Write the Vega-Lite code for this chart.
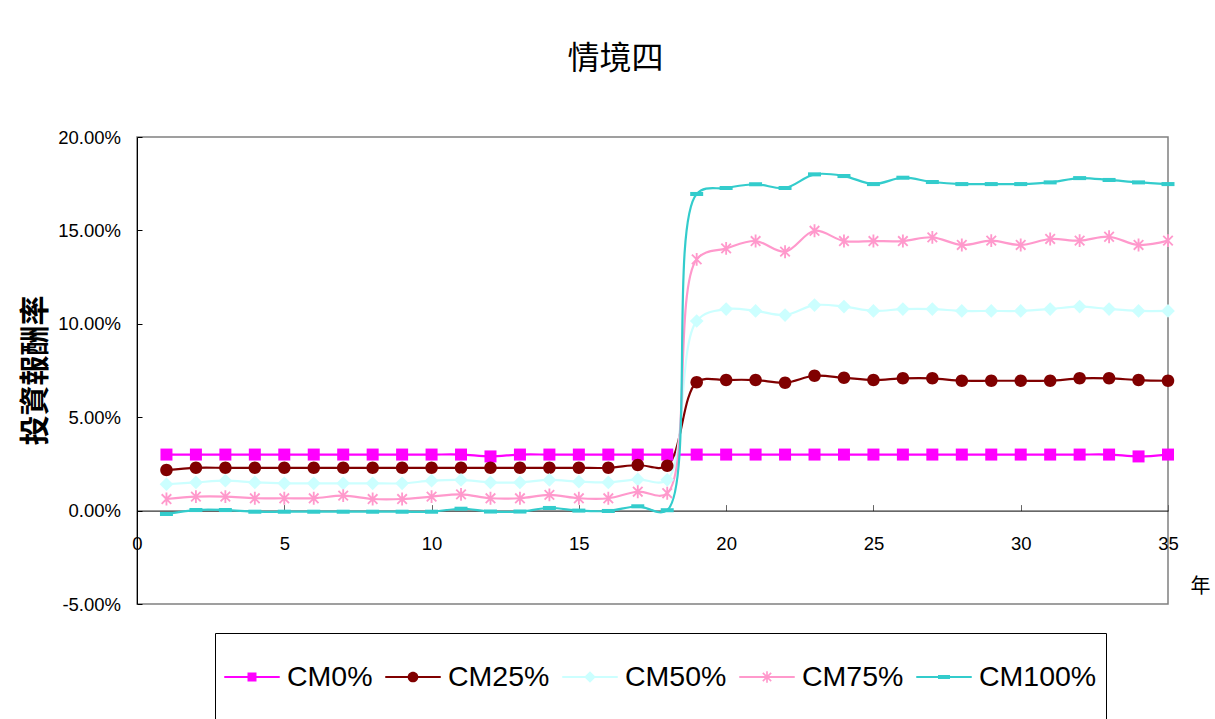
{
  "$schema": "https://vega.github.io/schema/vega-lite/v6.json",
  "autosize": {"type": "none"},
  "width": 1031,
  "height": 467,
  "padding": {"left": 137, "top": 137, "right": 47, "bottom": 115},
  "background": "white",
  "config": {
    "view": {"stroke": "#808080", "strokeWidth": 1.5},
    "font": "Liberation Sans"
  },
  "title": {
    "text": "情境四",
    "font": "Noto Sans CJK TC",
    "fontSize": 32,
    "fontWeight": "normal",
    "color": "black",
    "anchor": "middle",
    "frame": "group",
    "dx": -37,
    "offset": 52
  },
  "data": {
    "values": [
      {"year": 1, "series": "CM0%", "value": 0.030}, {"year": 2, "series": "CM0%", "value": 0.030}, {"year": 3, "series": "CM0%", "value": 0.030}, {"year": 4, "series": "CM0%", "value": 0.030}, {"year": 5, "series": "CM0%", "value": 0.030}, {"year": 6, "series": "CM0%", "value": 0.030}, {"year": 7, "series": "CM0%", "value": 0.030}, {"year": 8, "series": "CM0%", "value": 0.030}, {"year": 9, "series": "CM0%", "value": 0.030}, {"year": 10, "series": "CM0%", "value": 0.030}, {"year": 11, "series": "CM0%", "value": 0.030}, {"year": 12, "series": "CM0%", "value": 0.029}, {"year": 13, "series": "CM0%", "value": 0.030}, {"year": 14, "series": "CM0%", "value": 0.030}, {"year": 15, "series": "CM0%", "value": 0.030}, {"year": 16, "series": "CM0%", "value": 0.030}, {"year": 17, "series": "CM0%", "value": 0.030}, {"year": 18, "series": "CM0%", "value": 0.030}, {"year": 19, "series": "CM0%", "value": 0.030}, {"year": 20, "series": "CM0%", "value": 0.030}, {"year": 21, "series": "CM0%", "value": 0.030}, {"year": 22, "series": "CM0%", "value": 0.030}, {"year": 23, "series": "CM0%", "value": 0.030}, {"year": 24, "series": "CM0%", "value": 0.030}, {"year": 25, "series": "CM0%", "value": 0.030}, {"year": 26, "series": "CM0%", "value": 0.030}, {"year": 27, "series": "CM0%", "value": 0.030}, {"year": 28, "series": "CM0%", "value": 0.030}, {"year": 29, "series": "CM0%", "value": 0.030}, {"year": 30, "series": "CM0%", "value": 0.030}, {"year": 31, "series": "CM0%", "value": 0.030}, {"year": 32, "series": "CM0%", "value": 0.030}, {"year": 33, "series": "CM0%", "value": 0.030}, {"year": 34, "series": "CM0%", "value": 0.029}, {"year": 35, "series": "CM0%", "value": 0.030},
      {"year": 1, "series": "CM25%", "value": 0.0217}, {"year": 2, "series": "CM25%", "value": 0.0229}, {"year": 3, "series": "CM25%", "value": 0.0229}, {"year": 4, "series": "CM25%", "value": 0.0229}, {"year": 5, "series": "CM25%", "value": 0.0229}, {"year": 6, "series": "CM25%", "value": 0.0229}, {"year": 7, "series": "CM25%", "value": 0.0229}, {"year": 8, "series": "CM25%", "value": 0.0229}, {"year": 9, "series": "CM25%", "value": 0.0229}, {"year": 10, "series": "CM25%", "value": 0.0229}, {"year": 11, "series": "CM25%", "value": 0.0229}, {"year": 12, "series": "CM25%", "value": 0.0229}, {"year": 13, "series": "CM25%", "value": 0.0229}, {"year": 14, "series": "CM25%", "value": 0.0229}, {"year": 15, "series": "CM25%", "value": 0.0229}, {"year": 16, "series": "CM25%", "value": 0.0229}, {"year": 17, "series": "CM25%", "value": 0.0244}, {"year": 18, "series": "CM25%", "value": 0.0240}, {"year": 19, "series": "CM25%", "value": 0.0687}, {"year": 20, "series": "CM25%", "value": 0.0699}, {"year": 21, "series": "CM25%", "value": 0.0699}, {"year": 22, "series": "CM25%", "value": 0.0685}, {"year": 23, "series": "CM25%", "value": 0.0722}, {"year": 24, "series": "CM25%", "value": 0.0711}, {"year": 25, "series": "CM25%", "value": 0.0699}, {"year": 26, "series": "CM25%", "value": 0.0708}, {"year": 27, "series": "CM25%", "value": 0.0708}, {"year": 28, "series": "CM25%", "value": 0.0695}, {"year": 29, "series": "CM25%", "value": 0.0695}, {"year": 30, "series": "CM25%", "value": 0.0695}, {"year": 31, "series": "CM25%", "value": 0.0695}, {"year": 32, "series": "CM25%", "value": 0.0708}, {"year": 33, "series": "CM25%", "value": 0.0708}, {"year": 34, "series": "CM25%", "value": 0.0699}, {"year": 35, "series": "CM25%", "value": 0.0695},
      {"year": 1, "series": "CM50%", "value": 0.0141}, {"year": 2, "series": "CM50%", "value": 0.0151}, {"year": 3, "series": "CM50%", "value": 0.0160}, {"year": 4, "series": "CM50%", "value": 0.0151}, {"year": 5, "series": "CM50%", "value": 0.0146}, {"year": 6, "series": "CM50%", "value": 0.0146}, {"year": 7, "series": "CM50%", "value": 0.0146}, {"year": 8, "series": "CM50%", "value": 0.0146}, {"year": 9, "series": "CM50%", "value": 0.0146}, {"year": 10, "series": "CM50%", "value": 0.0160}, {"year": 11, "series": "CM50%", "value": 0.0164}, {"year": 12, "series": "CM50%", "value": 0.0151}, {"year": 13, "series": "CM50%", "value": 0.0151}, {"year": 14, "series": "CM50%", "value": 0.0164}, {"year": 15, "series": "CM50%", "value": 0.0155}, {"year": 16, "series": "CM50%", "value": 0.0151}, {"year": 17, "series": "CM50%", "value": 0.0167}, {"year": 18, "series": "CM50%", "value": 0.0165}, {"year": 19, "series": "CM50%", "value": 0.1015}, {"year": 20, "series": "CM50%", "value": 0.1079}, {"year": 21, "series": "CM50%", "value": 0.1069}, {"year": 22, "series": "CM50%", "value": 0.1047}, {"year": 23, "series": "CM50%", "value": 0.1100}, {"year": 24, "series": "CM50%", "value": 0.1092}, {"year": 25, "series": "CM50%", "value": 0.1069}, {"year": 26, "series": "CM50%", "value": 0.1079}, {"year": 27, "series": "CM50%", "value": 0.1079}, {"year": 28, "series": "CM50%", "value": 0.1069}, {"year": 29, "series": "CM50%", "value": 0.1069}, {"year": 30, "series": "CM50%", "value": 0.1069}, {"year": 31, "series": "CM50%", "value": 0.1079}, {"year": 32, "series": "CM50%", "value": 0.1092}, {"year": 33, "series": "CM50%", "value": 0.1079}, {"year": 34, "series": "CM50%", "value": 0.1069}, {"year": 35, "series": "CM50%", "value": 0.1069},
      {"year": 1, "series": "CM75%", "value": 0.0062}, {"year": 2, "series": "CM75%", "value": 0.0075}, {"year": 3, "series": "CM75%", "value": 0.0075}, {"year": 4, "series": "CM75%", "value": 0.0066}, {"year": 5, "series": "CM75%", "value": 0.0066}, {"year": 6, "series": "CM75%", "value": 0.0066}, {"year": 7, "series": "CM75%", "value": 0.0080}, {"year": 8, "series": "CM75%", "value": 0.0062}, {"year": 9, "series": "CM75%", "value": 0.0062}, {"year": 10, "series": "CM75%", "value": 0.0075}, {"year": 11, "series": "CM75%", "value": 0.0087}, {"year": 12, "series": "CM75%", "value": 0.0066}, {"year": 13, "series": "CM75%", "value": 0.0066}, {"year": 14, "series": "CM75%", "value": 0.0084}, {"year": 15, "series": "CM75%", "value": 0.0066}, {"year": 16, "series": "CM75%", "value": 0.0066}, {"year": 17, "series": "CM75%", "value": 0.0101}, {"year": 18, "series": "CM75%", "value": 0.0093}, {"year": 19, "series": "CM75%", "value": 0.1345}, {"year": 20, "series": "CM75%", "value": 0.1404}, {"year": 21, "series": "CM75%", "value": 0.1443}, {"year": 22, "series": "CM75%", "value": 0.1386}, {"year": 23, "series": "CM75%", "value": 0.1498}, {"year": 24, "series": "CM75%", "value": 0.1443}, {"year": 25, "series": "CM75%", "value": 0.1443}, {"year": 26, "series": "CM75%", "value": 0.1443}, {"year": 27, "series": "CM75%", "value": 0.1463}, {"year": 28, "series": "CM75%", "value": 0.1422}, {"year": 29, "series": "CM75%", "value": 0.1445}, {"year": 30, "series": "CM75%", "value": 0.1422}, {"year": 31, "series": "CM75%", "value": 0.1454}, {"year": 32, "series": "CM75%", "value": 0.1445}, {"year": 33, "series": "CM75%", "value": 0.1466}, {"year": 34, "series": "CM75%", "value": 0.1422}, {"year": 35, "series": "CM75%", "value": 0.1445},
      {"year": 1, "series": "CM100%", "value": -0.0018}, {"year": 2, "series": "CM100%", "value": 0.0003}, {"year": 3, "series": "CM100%", "value": 0.0003}, {"year": 4, "series": "CM100%", "value": -0.0006}, {"year": 5, "series": "CM100%", "value": -0.0006}, {"year": 6, "series": "CM100%", "value": -0.0006}, {"year": 7, "series": "CM100%", "value": -0.0006}, {"year": 8, "series": "CM100%", "value": -0.0006}, {"year": 9, "series": "CM100%", "value": -0.0006}, {"year": 10, "series": "CM100%", "value": -0.0006}, {"year": 11, "series": "CM100%", "value": 0.0010}, {"year": 12, "series": "CM100%", "value": -0.0005}, {"year": 13, "series": "CM100%", "value": -0.0005}, {"year": 14, "series": "CM100%", "value": 0.0014}, {"year": 15, "series": "CM100%", "value": 0.0000}, {"year": 16, "series": "CM100%", "value": -0.0002}, {"year": 17, "series": "CM100%", "value": 0.0023}, {"year": 18, "series": "CM100%", "value": 0.0002}, {"year": 19, "series": "CM100%", "value": 0.1695}, {"year": 20, "series": "CM100%", "value": 0.1727}, {"year": 21, "series": "CM100%", "value": 0.1747}, {"year": 22, "series": "CM100%", "value": 0.1727}, {"year": 23, "series": "CM100%", "value": 0.1800}, {"year": 24, "series": "CM100%", "value": 0.1791}, {"year": 25, "series": "CM100%", "value": 0.1748}, {"year": 26, "series": "CM100%", "value": 0.1782}, {"year": 27, "series": "CM100%", "value": 0.1759}, {"year": 28, "series": "CM100%", "value": 0.1748}, {"year": 29, "series": "CM100%", "value": 0.1748}, {"year": 30, "series": "CM100%", "value": 0.1748}, {"year": 31, "series": "CM100%", "value": 0.1757}, {"year": 32, "series": "CM100%", "value": 0.1780}, {"year": 33, "series": "CM100%", "value": 0.1770}, {"year": 34, "series": "CM100%", "value": 0.1757}, {"year": 35, "series": "CM100%", "value": 0.1748}
    ]
  },
  "encoding": {
    "x": {
      "field": "year",
      "type": "quantitative",
      "scale": {"domain": [0, 35], "nice": false, "zero": false},
      "axis": {
        "values": [0, 5, 10, 15, 20, 25, 30, 35],
        "offset": -93.4,
        "grid": false,
        "domainColor": "black",
        "domainWidth": 1,
        "tickColor": "#666666",
        "tickSize": -6,
        "labelPadding": 29.5,
        "labelFont": "Liberation Sans",
        "labelFontSize": 18.5,
        "labelColor": "black",
        "labelOverlap": false,
        "labelFlush": false,
        "title": "年",
        "titleFont": "Noto Sans CJK TC",
        "titleFontSize": 20,
        "titleFontWeight": "normal",
        "titleColor": "black",
        "titleX": 1063,
        "titleY": 75.4,
        "titleAlign": "center",
        "titleBaseline": "middle"
      }
    },
    "y": {
      "field": "value",
      "type": "quantitative",
      "scale": {"domain": [-0.05, 0.2], "nice": false, "zero": false},
      "axis": {
        "values": [-0.05, 0, 0.05, 0.1, 0.15, 0.2],
        "format": ".2%",
        "labelExpr": "replace(datum.label, '−', '-')",
        "grid": false,
        "domainColor": "black",
        "domainWidth": 1,
        "tickColor": "black",
        "tickSize": -5,
        "labelPadding": 21.5,
        "labelFont": "Liberation Sans",
        "labelFontSize": 18.5,
        "labelColor": "black",
        "labelOverlap": false,
        "title": "投資報酬率",
        "titleFont": "Noto Sans CJK TC",
        "titleFontSize": 30,
        "titleFontWeight": "bold",
        "titleColor": "black",
        "titleX": -102,
        "titleY": 233,
        "titleAngle": -90,
        "titleAlign": "center",
        "titleBaseline": "middle"
      }
    },
    "color": {
      "field": "series",
      "type": "nominal",
      "scale": {"domain": ["CM0%", "CM25%", "CM50%", "CM75%", "CM100%"], "range": ["#FF00FF", "#800000", "#CCFFFF", "#FF99CC", "#33CCCC"]},
      "legend": {
        "orient": "none",
        "legendX": 78,
        "legendY": 496,
        "direction": "horizontal",
        "columns": 5,
        "title": null,
        "padding": 9,
        "strokeColor": "black",
        "fillColor": "white",
        "symbolSize": 3080,
        "symbolStrokeWidth": 0,
        "symbolOpacity": 1,
        "clipHeight": 69.4,
        "labelFont": "Liberation Sans",
        "labelFontSize": 28.5,
        "labelColor": "black",
        "labelOffset": 7,
        "labelLimit": 400,
        "columnPadding": 12,
        "gridAlign": "each",
        "encode": {
          "symbols": {
            "update": {
              "shape": {"signal": "datum.value === 'CM0%' ? 'M-1,-0.036L1,-0.036L1,0.036L-1,0.036ZM-0.162,-0.162L0.162,-0.162L0.162,0.162L-0.162,0.162ZM0,-1.09M0,1.09' : datum.value === 'CM25%' ? 'M-1,-0.036L1,-0.036L1,0.036L-1,0.036ZM-0.193,0A0.193,0.193 0 1,1 0.193,0A0.193,0.193 0 1,1 -0.193,0ZM0,-1.09M0,1.09' : datum.value === 'CM50%' ? 'M-1,-0.036L1,-0.036L1,0.036L-1,0.036ZM0,-0.21L0.21,0L0,0.21L-0.21,0ZM0,-1.09M0,1.09' : datum.value === 'CM75%' ? 'M-1,-0.036L1,-0.036L1,0.036L-1,0.036ZM-0.03,-0.21L0.03,-0.21L0.03,0.21L-0.03,0.21ZM-0.129,-0.171L0.171,0.129L0.129,0.171L-0.171,-0.129ZM0.129,-0.171L0.171,-0.129L-0.129,0.171L-0.171,0.129ZM0,-1.09M0,1.09' : 'M-1,-0.036L1,-0.036L1,0.036L-1,0.036ZM-0.216,-0.072L0.216,-0.072L0.216,0.072L-0.216,0.072ZM0,-1.09M0,1.09'"},
              "fill": {"signal": "scale('color', datum.value)"},
              "stroke": {"value": "transparent"},
              "strokeWidth": {"value": 0},
              "opacity": {"value": 1}
            }
          }
        }
      }
    }
  },
  "layer": [
    {
      "mark": {"type": "line", "interpolate": "catmull-rom", "strokeWidth": 2.2}
    },
    {
      "mark": {"type": "point", "filled": true, "opacity": 1, "size": 150, "strokeWidth": 0},
      "encoding": {
        "shape": {
          "field": "series",
          "type": "nominal",
          "scale": {"domain": ["CM100%", "CM75%", "CM50%", "CM25%", "CM0%"], "range": [
            "M-1.06,-0.33L1.06,-0.33L1.06,0.33L-1.06,0.33Z",
            "M-0.15,-1.05L0.15,-1.05L0.15,1.05L-0.15,1.05ZM-0.674,-0.886L0.886,0.674L0.674,0.886L-0.886,-0.674ZM0.674,-0.886L0.886,-0.674L-0.674,0.886L-0.886,0.674Z",
            "M0,-1.12L1.12,0L0,1.12L-1.12,0Z",
            "M-1.02,0A1.02,1.02 0 1,1 1.02,0A1.02,1.02 0 1,1 -1.02,0Z",
            "M-0.98,-0.98L0.98,-0.98L0.98,0.98L-0.98,0.98Z"
          ]},
          "legend": null
        }
      }
    }
  ]
}
